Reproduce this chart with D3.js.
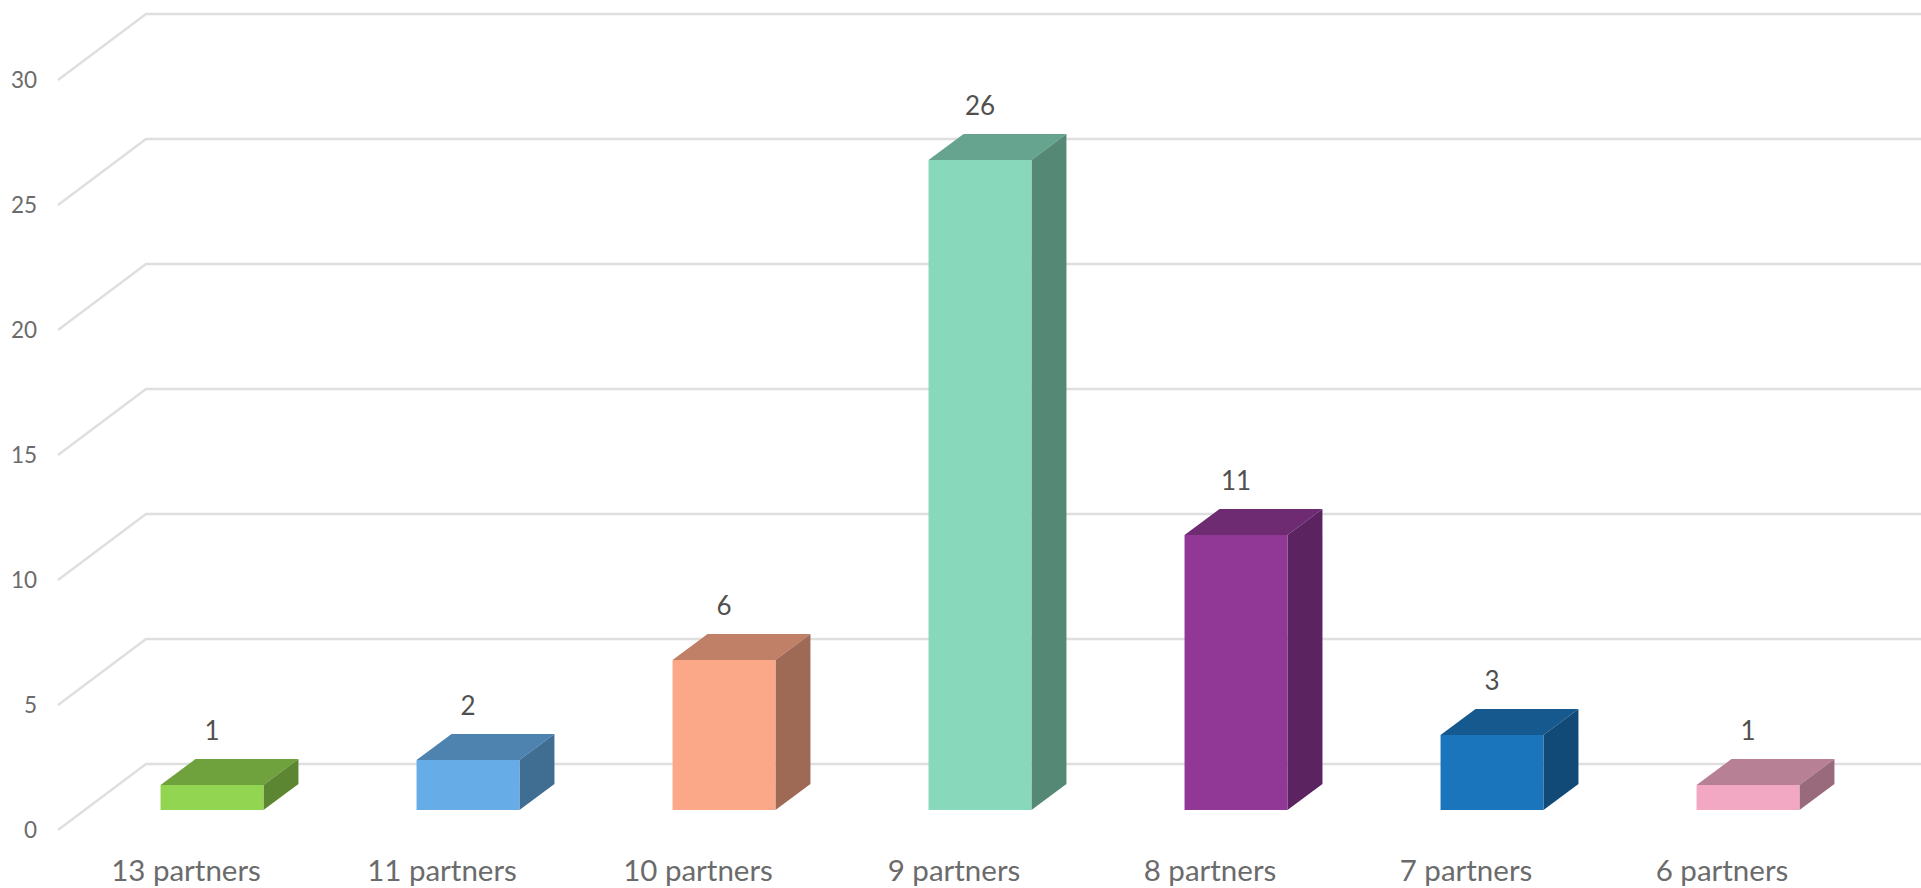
<!DOCTYPE html>
<html>
<head>
<meta charset="utf-8">
<script src="https://cdn.jsdelivr.net/npm/d3@7"></script>
<style>
  html, body { margin: 0; padding: 0; background: #fff; overflow: hidden; }
  svg { display: block; }
  text { font-family: Lato, "Open Sans", sans-serif; }
</style>
</head>
<body>
<div id="chart"></div>
<script>
const categories = ['13 partners', '11 partners', '10 partners', '9 partners', '8 partners', '7 partners', '6 partners'];
const values = [1, 2, 6, 26, 11, 3, 1];
const barColors = ['#92d550', '#66ade8', '#fba888', '#88d8bc', '#913896', '#1b75bc', '#f2a8c3'];
const yTicks = [0, 5, 10, 15, 20, 25, 30];

const width = 1921, height = 888;

// oblique depth of the 3d box, and of the whole floor
const wallDx = 88, wallDy = 66;
const barInset = 20;           // bars stand this far behind the front edge
const barDx = 35, barDy = 26;

const svg = d3.select('#chart').append('svg')
    .attr('width', width)
    .attr('height', height);

const y = d3.scaleLinear().domain([0, 30]).range([830, 80]);

const x = d3.scaleBand()
    .domain(categories)
    .range([84, 1876])
    .paddingInner(0.598)
    .paddingOuter(0.299);

// grid: short diagonal on the side wall + long line on the back wall
const gridG = svg.append('g').attr('class', 'grid');
gridG.selectAll('path')
    .data(yTicks)
    .join('path')
    .attr('d', d => `M58,${y(d)}L${58 + wallDx},${y(d) - wallDy}L${width},${y(d) - wallDy}`)
    .attr('fill', 'none')
    .attr('stroke', '#dfdfdf')
    .attr('stroke-width', 2.5);

// y axis
const yAxisG = svg.append('g')
    .attr('transform', 'translate(46,0)')
    .call(d3.axisLeft(y).tickValues(yTicks).tickSize(0).tickPadding(9));
yAxisG.select('.domain').remove();
yAxisG.selectAll('text')
    .style('font-size', '22.5px')
    .style('fill', '#6b6b6b');

// x axis, labels sit under the front edge of the floor
const xAxisG = svg.append('g')
    .attr('transform', 'translate(-26,860)')
    .call(d3.axisBottom(x).tickSize(0).tickPadding(0));
xAxisG.select('.domain').remove();
xAxisG.selectAll('text')
    .style('font-size', '29.5px')
    .style('fill', '#6b6b6b');

// bars
const shade = (c, k) => {
    const o = d3.rgb(c);
    return d3.rgb(o.r * k, o.g * k, o.b * k).formatHex();
};

const rows = categories.map((c, i) => ({ category: c, value: values[i], color: barColors[i] }));
const base = y(0) - barInset;

const groups = svg.selectAll('.bar-group')
    .data(rows)
    .join('g')
    .attr('class', 'bar-group');

// top face
groups.append('polygon')
    .attr('points', d => {
        const x0 = x(d.category), x1 = x0 + x.bandwidth(), t = y(d.value) - barInset;
        return [[x0, t], [x1, t], [x1 + barDx, t - barDy], [x0 + barDx, t - barDy]].join(' ');
    })
    .attr('fill', d => shade(d.color, 0.76));

// side face
groups.append('polygon')
    .attr('points', d => {
        const x1 = x(d.category) + x.bandwidth(), t = y(d.value) - barInset;
        return [[x1, t], [x1 + barDx, t - barDy], [x1 + barDx, base - barDy], [x1, base]].join(' ');
    })
    .attr('fill', d => shade(d.color, 0.63));

// front face
groups.append('rect')
    .attr('x', d => x(d.category))
    .attr('y', d => y(d.value) - barInset)
    .attr('width', x.bandwidth())
    .attr('height', d => base - (y(d.value) - barInset))
    .attr('fill', d => d.color);

// value labels
groups.append('text')
    .attr('x', d => x(d.category) + x.bandwidth() / 2)
    .attr('y', d => y(d.value) - barInset - barDy - 19)
    .attr('text-anchor', 'middle')
    .style('font-size', '26px')
    .style('fill', '#505050')
    .text(d => d.value);
</script>
</body>
</html>
